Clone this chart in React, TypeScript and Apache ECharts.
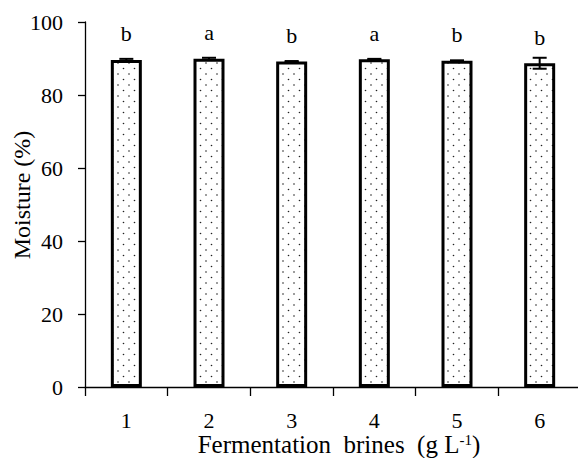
import React, { useEffect, useRef } from "react";
import * as echarts from "echarts";

const categories = ["1", "2", "3", "4", "5", "6"];
const moisture = [89.6, 89.9, 89.2, 89.8, 89.4, 88.7];
const errors = [0.3, 0.3, 0.1, 0.1, 0.1, 1.5];
const letters = ["b", "a", "b", "a", "b", "b"];
const yTicks = [0, 20, 40, 60, 80, 100];
const yTitle = "Moisture (%)";
const xTitle = "Fermentation  brines  (g L{sup|-1})";

const FONT = "Liberation Serif";

function makeDots(): string {
  const c = document.createElement("canvas");
  c.width = 11;
  c.height = 11;
  const ctx = c.getContext("2d")!;
  ctx.fillStyle = "#ffffff";
  ctx.fillRect(0, 0, 11, 11);
  ctx.fillStyle = "#222222";
  ctx.beginPath();
  ctx.arc(2.5, 2.5, 0.8, 0, Math.PI * 2);
  ctx.fill();
  ctx.beginPath();
  ctx.arc(8, 8, 0.8, 0, Math.PI * 2);
  ctx.fill();
  return c.toDataURL();
}

export default function App() {
  const ref = useRef<HTMLDivElement>(null);
  useEffect(() => {
    if (!ref.current) return;
    const chart = echarts.init(ref.current, undefined, { renderer: "svg" });
    const dots = makeDots();
    chart.setOption({
      animation: false,
      backgroundColor: "#ffffff",
      textStyle: { fontFamily: FONT },
      grid: {
        left: 85,
        top: 22,
        width: 496,
        height: 365,
        containLabel: false,
        outerBoundsMode: "none",
      },
      graphic: [
        {
          type: "text",
          x: 22,
          y: 195,
          rotation: Math.PI / 2,
          style: {
            text: yTitle,
            font: `24px ${FONT}`,
            fill: "#000",
            align: "center",
            verticalAlign: "middle",
          },
        },
        {
          type: "text",
          x: 339,
          y: 444,
          style: {
            text: xTitle,
            font: `25px ${FONT}`,
            fill: "#000",
            align: "center",
            verticalAlign: "middle",
            lineHeight: 24,
            rich: {
              sup: { font: `15px ${FONT}`, fill: "#000", lineHeight: 24, verticalAlign: "top" },
            },
          },
        },
      ],
      xAxis: {
        type: "category",
        data: categories,
        boundaryGap: true,
        axisLine: { show: true, lineStyle: { color: "#000", width: 1.3 } },
        axisTick: { show: true, length: 9, alignWithLabel: false, lineStyle: { color: "#000", width: 1.3 } },
        axisLabel: { margin: 22, fontFamily: FONT, fontSize: 22, color: "#000" },
        splitLine: { show: false },
      },
      yAxis: {
        type: "value",
        min: 0,
        max: 100,
        interval: 20,
        axisLine: { show: true, lineStyle: { color: "#000", width: 1.3 } },
        axisTick: { show: true, length: 7, lineStyle: { color: "#000", width: 1.3 } },
        axisLabel: {
          margin: 22,
          fontFamily: FONT,
          fontSize: 22,
          color: "#000",
          formatter: (v: number) => (yTicks.includes(v) ? String(v) : ""),
        },
        splitLine: { show: false },
      },
      series: [
        {
          type: "bar",
          data: moisture,
          barWidth: 31,
          itemStyle: {
            color: { image: dots, repeat: "repeat" },
            borderColor: "#000",
            borderWidth: 3,
          },
          label: {
            show: true,
            position: "top",
            distance: 15,
            fontFamily: FONT,
            fontSize: 22,
            color: "#000",
            formatter: (p: any) => letters[p.dataIndex],
          },
          z: 2,
        },
        {
          type: "custom",
          data: categories.map((_, i) => [i, moisture[i], errors[i]]),
          encode: { x: 0, y: 1 },
          z: 5,
          renderItem: (params: any, api: any) => {
            const x = api.value(0);
            const v = api.value(1);
            const e = api.value(2);
            const hi = api.coord([x, v + e]);
            const lo = api.coord([x, v - e]);
            const hw = 7;
            const st = { stroke: "#000", lineWidth: 2 };
            return {
              type: "group",
              children: [
                { type: "line", shape: { x1: hi[0], y1: hi[1], x2: lo[0], y2: lo[1] }, style: st },
                { type: "line", shape: { x1: hi[0] - hw, y1: hi[1], x2: hi[0] + hw, y2: hi[1] }, style: st },
                { type: "line", shape: { x1: lo[0] - hw, y1: lo[1], x2: lo[0] + hw, y2: lo[1] }, style: st },
              ],
            };
          },
        },
      ],
    });
    return () => chart.dispose();
  }, []);
  return <div ref={ref} style={{ position: "fixed", left: 0, top: 0, width: 578, height: 458 }} />;
}
